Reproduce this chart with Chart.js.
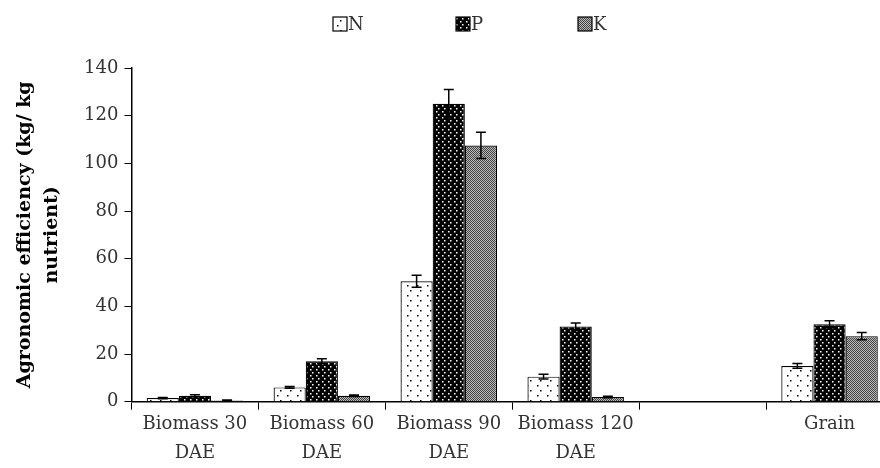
<!DOCTYPE html>
<html>
<head>
<meta charset="utf-8">
<script src="https://cdn.jsdelivr.net/npm/chart.js@4.4.1/dist/chart.umd.min.js"></script>
<style>
  html, body { margin: 0; padding: 0; background: #fff; overflow: hidden; }
  #wrap { width: 895px; height: 468px; position: relative; }
</style>
</head>
<body>
<div id="wrap"><canvas id="grafico"></canvas></div>
<script>
const categorias = [['Biomass 30', 'DAE'], ['Biomass 60', 'DAE'], ['Biomass 90', 'DAE'], ['Biomass 120', 'DAE'], ['', ''], ['Grain', '']];
const series = ['N', 'P', 'K'];
const valoresN = [1.5, 6, 50.5, 10.5, null, 15];
const valoresP = [2.5, 17, 125, 31.5, null, 32.5];
const valoresK = [0.5, 2.5, 107.5, 2, null, 27.5];
const erroN = [0.3, 0.4, 2.5, 1, null, 1];
const erroP = [0.4, 1, 6, 1.5, null, 1.5];
const erroK = [0.2, 0.3, 5.5, 0.3, null, 1.5];

function padrao(fundo, ponto, passo, desloc) {
  const c = document.createElement('canvas');
  c.width = passo * 2; c.height = passo * 2;
  const g = c.getContext('2d');
  g.fillStyle = fundo;
  g.fillRect(0, 0, c.width, c.height);
  g.fillStyle = ponto;
  g.fillRect(0, 0, 1.5, 1.5);
  g.fillRect(passo + desloc, passo, 1.5, 1.5);
  return g.createPattern(c, 'repeat');
}
function padraoCinza() {
  const c = document.createElement('canvas');
  c.width = 2; c.height = 2;
  const g = c.getContext('2d');
  g.fillStyle = '#bbb'; g.fillRect(0, 0, 2, 2);
  g.fillStyle = '#444'; g.fillRect(0, 0, 1, 1); g.fillRect(1, 1, 1, 1);
  return g.createPattern(c, 'repeat');
}

const fonte = "'DejaVu Serif', serif";

// barras de erro desenhadas pela escala y
const barrasErro = {
  id: 'barrasErro',
  afterDatasetsDraw(chart) {
    const ctx = chart.ctx;
    const y = chart.scales.y;
    const erros = [erroN, erroP, erroK];
    ctx.save();
    ctx.strokeStyle = '#000';
    ctx.lineWidth = 1.5;
    chart.data.datasets.forEach((ds, i) => {
      const meta = chart.getDatasetMeta(i);
      meta.data.forEach((bar, j) => {
        const v = ds.data[j], e = erros[i][j];
        if (v == null || e == null) return;
        const yTop = y.getPixelForValue(v + e);
        const yBot = y.getPixelForValue(Math.max(v - e, 0));
        ctx.beginPath();
        ctx.moveTo(bar.x, yBot); ctx.lineTo(bar.x, yTop);
        ctx.moveTo(bar.x - 5, yTop); ctx.lineTo(bar.x + 5, yTop);
        ctx.moveTo(bar.x - 5, yBot); ctx.lineTo(bar.x + 5, yBot);
        ctx.stroke();
      });
    });
    ctx.restore();
  }
};

// legenda no topo, espaçada como no original
const legenda = {
  id: 'legenda',
  afterDraw(chart) {
    const ctx = chart.ctx;
    const xs = [333, 456, 578];
    ctx.save();
    ctx.font = '18px ' + fonte;
    ctx.textBaseline = 'middle';
    chart.data.datasets.forEach((ds, i) => {
      ctx.fillStyle = ds.backgroundColor;
      ctx.fillRect(xs[i], 17, 14, 14);
      ctx.strokeStyle = '#000';
      ctx.lineWidth = 1.2;
      ctx.strokeRect(xs[i], 17, 14, 14);
      ctx.fillStyle = '#333';
      ctx.fillText(ds.label, xs[i] + 15, 25);
    });
    ctx.restore();
  }
};

const ctx = document.getElementById('grafico').getContext('2d');
new Chart(ctx, {
  type: 'bar',
  data: {
    labels: categorias,
    datasets: [
      { label: series[0], data: valoresN, backgroundColor: padrao('#fff', '#000', 5, 2), borderColor: '#000', borderWidth: 1.2 },
      { label: series[1], data: valoresP, backgroundColor: padrao('#000', '#fff', 3, 1), borderColor: '#000', borderWidth: 1.2 },
      { label: series[2], data: valoresK, backgroundColor: padraoCinza(), borderColor: '#000', borderWidth: 1.2 }
    ]
  },
  options: {
    responsive: true,
    maintainAspectRatio: false,
    animation: false,
    layout: { padding: { top: 68, right: 2, left: 11, bottom: 0 } },
    datasets: { bar: { categoryPercentage: 0.76, barPercentage: 1 } },
    plugins: {
      tooltip: { enabled: false },
      legend: { display: false }
    },
    scales: {
      x: {
        grid: { display: true, drawOnChartArea: false, drawTicks: true, tickLength: 8, color: '#000', offset: true },
        border: { color: '#000', width: 1.5 },
        ticks: { font: { family: fonte, size: 18, lineHeight: 1.62 }, color: '#333', maxRotation: 0, autoSkip: false, padding: 0 }
      },
      y: {
        min: 0, max: 140,
        grid: { display: true, drawOnChartArea: false, drawTicks: true, tickLength: 7, color: '#000' },
        border: { color: '#000', width: 1.5 },
        ticks: { stepSize: 20, font: { family: fonte, size: 18 }, color: '#333', padding: 6 },
        title: {
          display: true,
          text: ['Agronomic efficiency (kg/ kg', 'nutrient)'],
          font: { family: fonte, size: 19, weight: 'bold', lineHeight: 1.45 },
          color: '#000',
          padding: { top: 0, bottom: 12 }
        }
      }
    }
  },
  plugins: [barrasErro, legenda]
});
</script>
</body>
</html>
